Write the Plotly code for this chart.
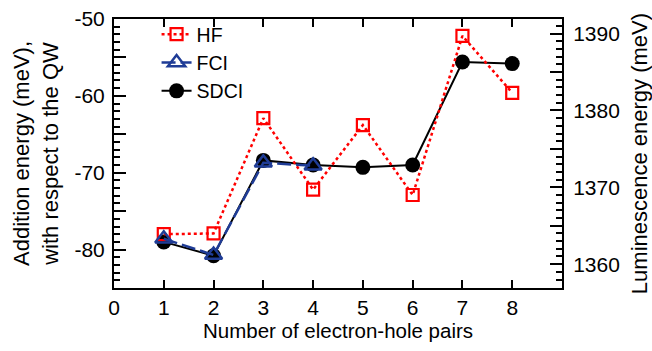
import plotly.graph_objects as go

pairs = [1, 2, 3, 4, 5, 6, 7, 8]
hf = [-78.0, -77.9, -62.9, -72.2, -63.8, -72.9, -52.2, -59.6]
fci_pairs = [1, 2, 3, 4]
fci = [-78.6, -80.7, -68.7, -69.1]
sdci = [-79.0, -80.8, -68.4, -69.0, -69.3, -69.0, -55.6, -55.8]

left_ticks = [-85, -80, -75, -70, -65, -60, -55, -50]
left_text = ["", "-80", "", "-70", "", "-60", "", "-50"]
right_ticks = [1360, 1365, 1370, 1375, 1380, 1385, 1390]
right_text = ["1360", "", "1370", "", "1380", "", "1390"]
x_ticks = [0, 1, 2, 3, 4, 5, 6, 7, 8]

FONT = "Liberation Sans, Arial, sans-serif"
NAVY = "#1f3c96"

fig = go.Figure()
fig.add_trace(go.Scatter(x=pairs, y=sdci, name="SDCI", mode="lines+markers",
                         line=dict(color="black", width=2),
                         marker=dict(symbol="circle", size=15, color="black"),
                         legendrank=3))
fig.add_trace(go.Scatter(x=pairs, y=hf, name="HF", mode="lines+markers",
                         line=dict(color="#ff0000", width=2.5, dash="dot"),
                         marker=dict(symbol="square-open", size=12, color="#ff0000",
                                     line=dict(width=2.2, color="#ff0000")),
                         legendrank=1))
fig.add_trace(go.Scatter(x=fci_pairs, y=fci, name="FCI", mode="lines+markers",
                         line=dict(color=NAVY, width=2.5, dash="14px,5px"),
                         marker=dict(symbol="triangle-up-open", size=15, color=NAVY,
                                     line=dict(width=2.5, color=NAVY)),
                         legendrank=2))
fig.add_trace(go.Scatter(x=[0], y=[1380], yaxis="y2", mode="markers",
                         marker=dict(opacity=0), showlegend=False, hoverinfo="skip"))

fig.update_layout(
    width=652, height=351,
    margin=dict(l=114, r=90, t=19, b=63, autoexpand=False),
    paper_bgcolor="white", plot_bgcolor="white",
    font=dict(family=FONT, size=21, color="black"),
    showlegend=True,
    legend=dict(x=0.095, y=1.015, xanchor="left", yanchor="top",
                bgcolor="rgba(0,0,0,0)", font=dict(size=19.5),
                tracegroupgap=0, itemwidth=30),
    xaxis=dict(range=[0, 9], tickvals=x_ticks, ticks="inside", ticklen=8,
               tickwidth=2, tickcolor="black", showline=True, linewidth=2,
               linecolor="black", mirror="ticks", showgrid=False, zeroline=False,
               automargin=False,
               title=dict(text="Number of electron-hole pairs", font=dict(size=20.5),
                          standoff=4)),
    yaxis=dict(range=[-85, -50], tickvals=left_ticks, ticktext=left_text,
               ticks="inside", ticklen=12, tickwidth=2, tickcolor="black",
               ticklabelstandoff=3, automargin=False,
               minor=dict(dtick=1, ticks="inside", ticklen=6, tickwidth=1.5,
                          tickcolor="black", showgrid=False),
               showline=True, linewidth=2, linecolor="black", showgrid=False,
               zeroline=False,
               title=dict(text="Addition energy (meV),<br>with respect to the QW",
                          font=dict(size=22), standoff=10)),
    yaxis2=dict(range=[1356.9, 1391.9], overlaying="y", side="right",
                tickvals=right_ticks, ticktext=right_text,
                ticks="inside", ticklen=12, tickwidth=2, tickcolor="black",
                ticklabelstandoff=5, automargin=False,
                minor=dict(dtick=1, ticks="inside", ticklen=6, tickwidth=1.5,
                           tickcolor="black", showgrid=False),
                showline=True, linewidth=2, linecolor="black", showgrid=False,
                zeroline=False,
                title=dict(text="Luminescence energy (meV)", font=dict(size=22),
                           standoff=14)),
)

fig.write_html("out.html")
